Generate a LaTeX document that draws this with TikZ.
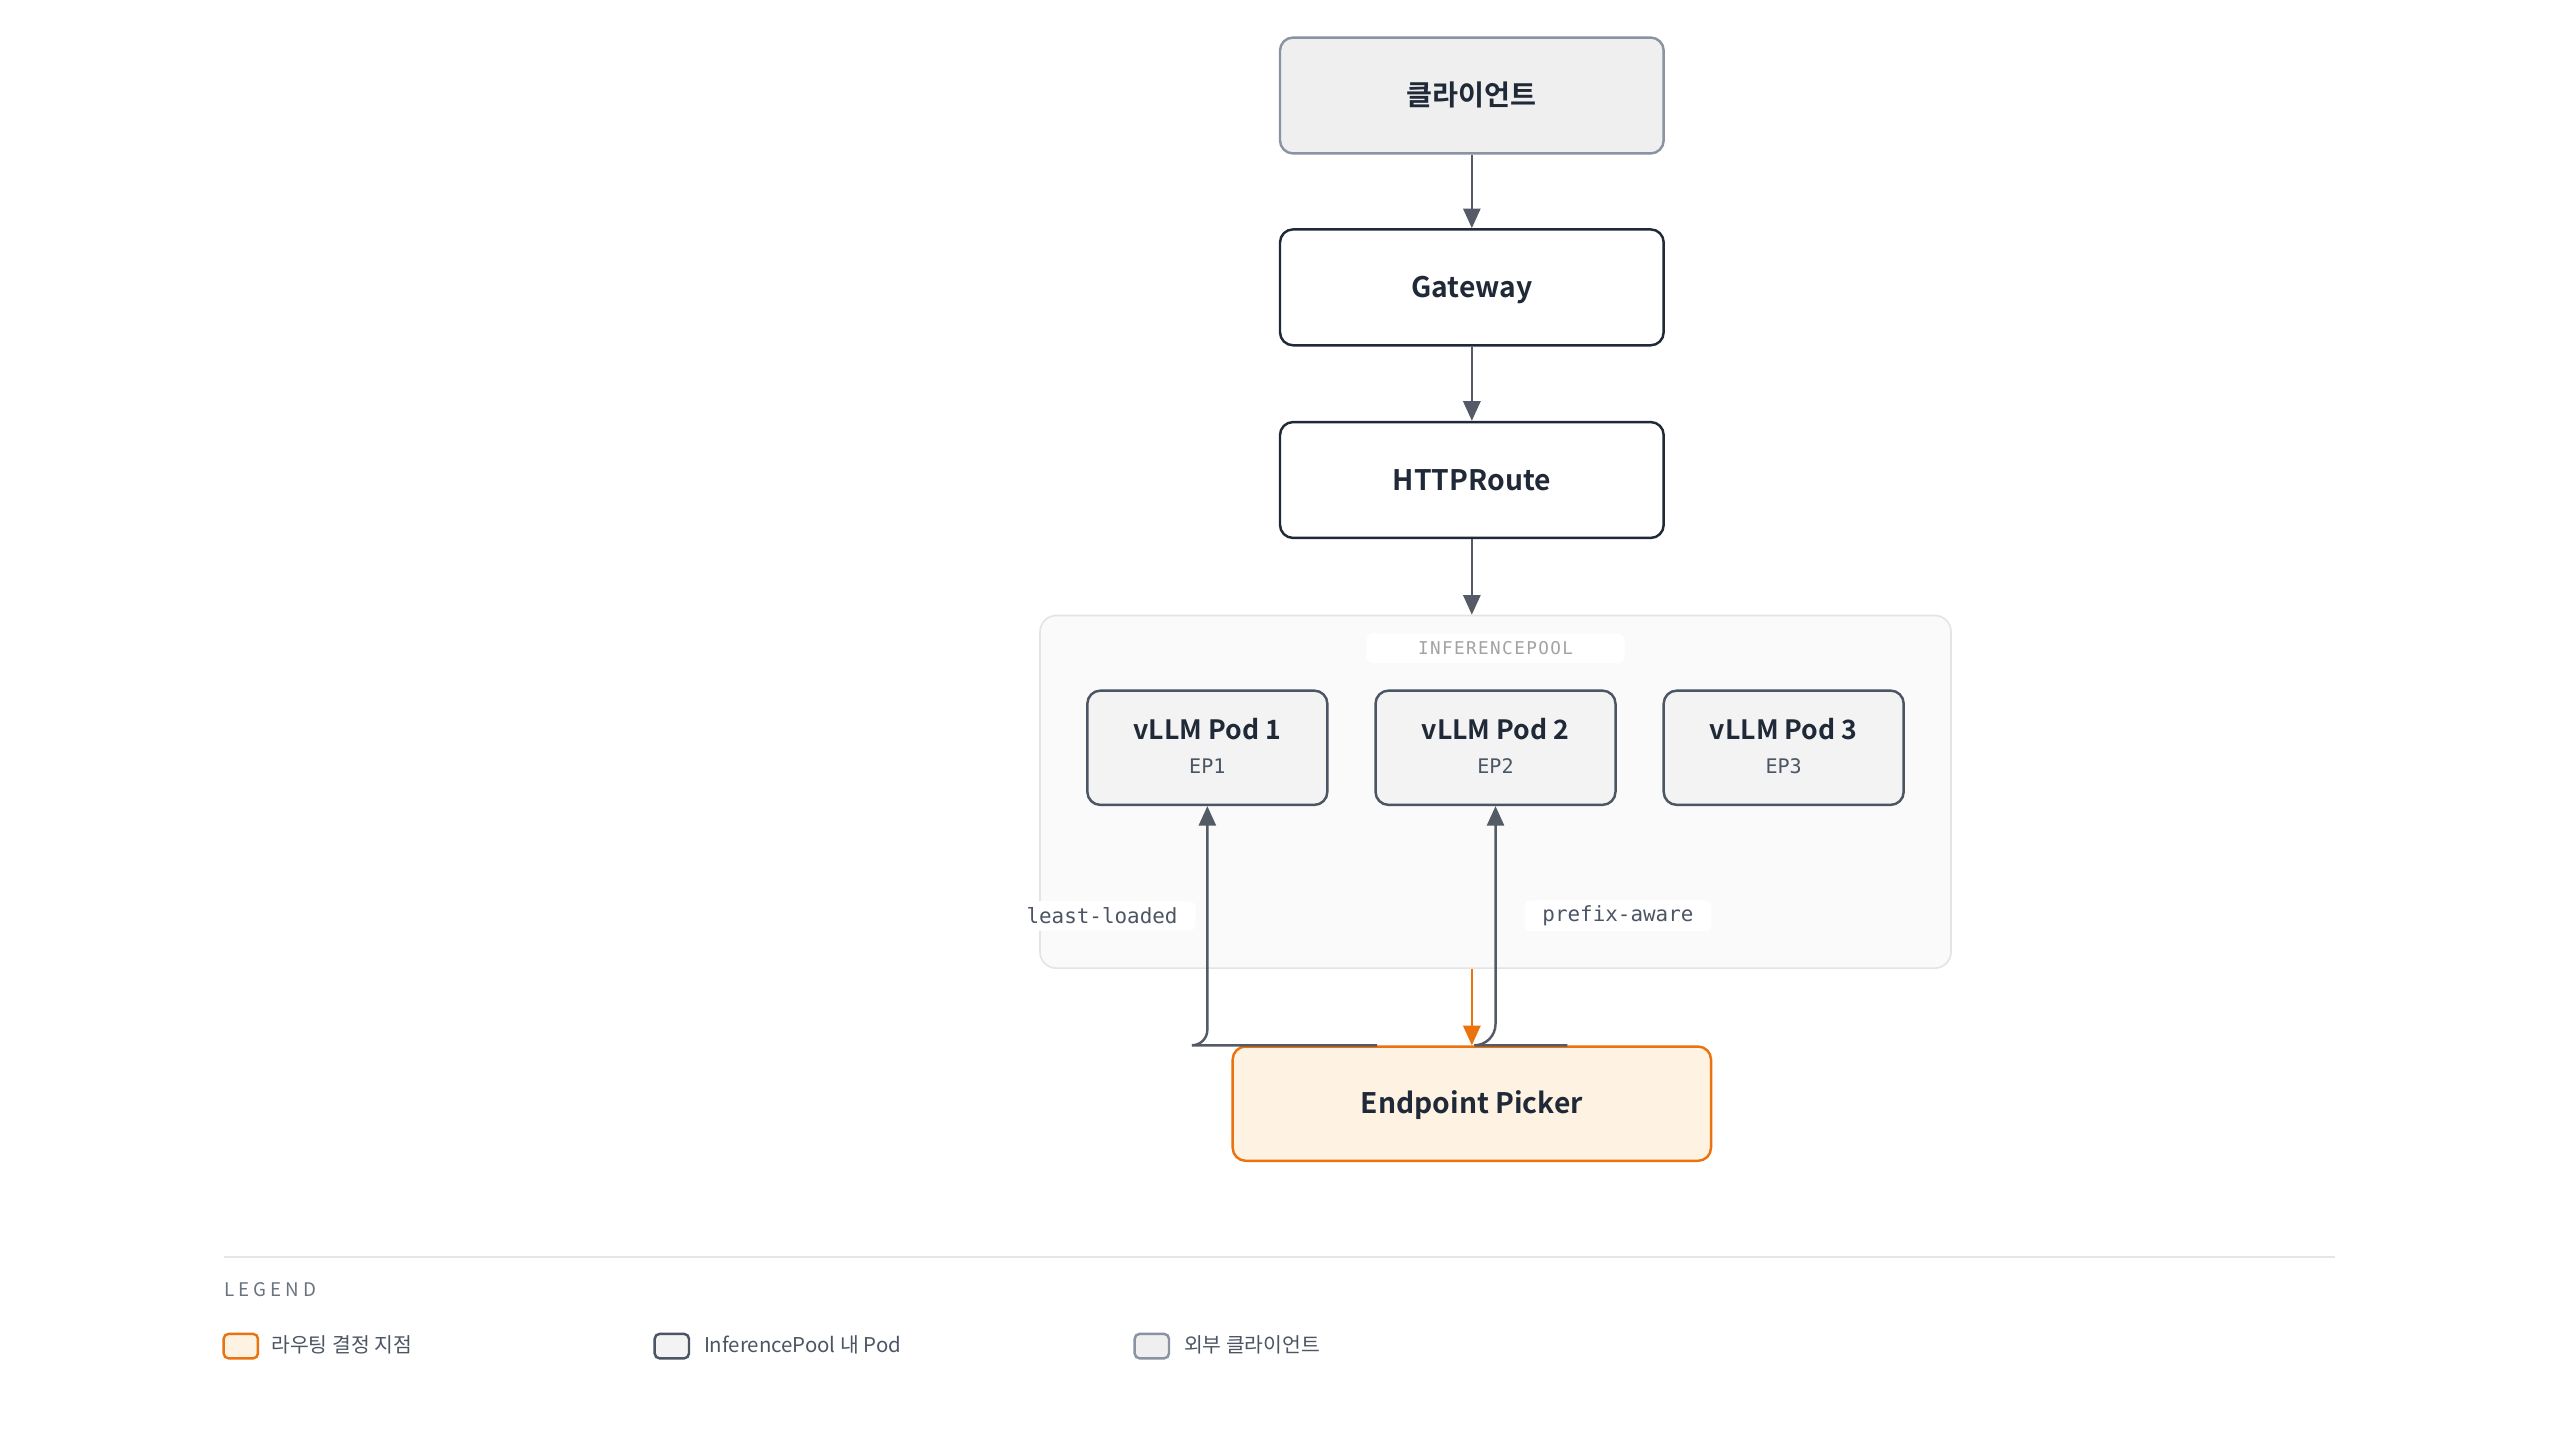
\documentclass[tikz,border=0pt]{standalone}
\usepackage{fontspec}
\setmainfont{Noto Sans CJK KR}[BoldFont={Noto Sans CJK KR Bold}]
\newfontfamily\monofont{DejaVu Sans Mono}
\newfontfamily\spacedmono[LetterSpace=8]{DejaVu Sans Mono}
\newfontfamily\legendfont[LetterSpace=22]{Noto Sans CJK KR}
\usetikzlibrary{arrows.meta,calc}
\definecolor{ink}{HTML}{1F2937}
\definecolor{edgegray}{HTML}{545B66}
\definecolor{podborder}{HTML}{4B5563}
\definecolor{podfill}{HTML}{F3F3F4}
\definecolor{clientfill}{HTML}{EFEFEF}
\definecolor{clientborder}{HTML}{8A93A3}
\definecolor{poolfill}{HTML}{FAFAFA}
\definecolor{poolborder}{HTML}{E4E4E4}
\definecolor{orangeb}{HTML}{EA730F}
\definecolor{orangef}{HTML}{FEF3E2}
\definecolor{labelgray}{HTML}{4B5563}
\definecolor{faint}{HTML}{A3A3A3}
\definecolor{legendline}{HTML}{E5E5E5}
\definecolor{legendtitle}{HTML}{6B7280}
\begin{document}
\begin{tikzpicture}[x=1pt,y=1pt,
  box/.style={rectangle, rounded corners=8pt, line width=1.5pt, minimum width=235pt, minimum height=71pt, text=ink, text height=12.6pt, text depth=0pt, font=\bfseries\fontsize{17.3}{21}\selectfont},
  podbox/.style={rectangle, rounded corners=8pt, line width=1.5pt, draw=podborder, fill=podfill, minimum width=147pt, minimum height=70pt},
  podtitle/.style={text=ink, inner sep=0pt, font=\bfseries\fontsize{16.3}{19}\selectfont},
  eptext/.style={text=labelgray, inner sep=0pt, font=\monofont\fontsize{12.3}{14}\selectfont},
  edge/.style={draw=edgegray, line width=1.5pt, -{Triangle[width=10.5pt,length=12pt]}},
  oedge/.style={draw=orangeb, line width=1.5pt, -{Triangle[width=10.5pt,length=12pt]}},
  elabel/.style={fill=white, rounded corners=4pt, text=labelgray, inner xsep=11pt, minimum height=18pt, font=\monofont\fontsize{12.8}{14}\selectfont},
  swatch/.style={rectangle, rounded corners=3pt, line width=1.5pt, minimum width=21pt, minimum height=15pt, inner sep=0pt},
  legtext/.style={anchor=west, inner sep=0pt, text=labelgray, font=\fontsize{12.5}{15}\selectfont}
]
\useasboundingbox (0,0) rectangle (1568,-882);
\fill[white] (0,0) rectangle (1568,-882);

% container
\node (pool) [rectangle, rounded corners=10pt, draw=poolborder, fill=poolfill, line width=1pt, minimum width=558pt, minimum height=216pt] at (916,-485) {};
\node (poollabel) [fill=white, rounded corners=4pt, minimum width=158pt, minimum height=18pt, inner sep=0pt, text=faint, font=\spacedmono\fontsize{10.8}{12}\selectfont] at (916,-397) {INFERENCEPOOL};

% main nodes
\node (client) [box, draw=clientborder, fill=clientfill] at (901.5,-58.5) {클라이언트};
\node (gateway) [box, draw=ink, fill=white] at (901.5,-176) {Gateway};
\node (httproute) [box, draw=ink, fill=white] at (901.5,-294) {HTTPRoute};

\node (pod1) [podbox] at (739.5,-458) {};
\node (pod2) [podbox] at (916,-458) {};
\node (pod3) [podbox] at (1092.5,-458) {};
\node (pod1t) [podtitle] at ($(pod1.center)+(0,11.5)$) {vLLM Pod 1};
\node (pod2t) [podtitle] at ($(pod2.center)+(0,11.5)$) {vLLM Pod 2};
\node (pod3t) [podtitle] at ($(pod3.center)+(0,11.5)$) {vLLM Pod 3};
\node (pod1e) [eptext] at ($(pod1.center)+(0,-11)$) {EP1};
\node (pod2e) [eptext] at ($(pod2.center)+(0,-11)$) {EP2};
\node (pod3e) [eptext] at ($(pod3.center)+(0,-11)$) {EP3};

\node (ep) [box, draw=orangeb, fill=orangef, minimum width=293pt, minimum height=70pt] at (901.5,-676) {Endpoint Picker};

% edges
\draw[edge] (client.south) -- (gateway.north);
\draw[edge] (gateway.south) -- (httproute.north);
\draw[edge] (httproute.south) -- (httproute.south |- pool.north);

\coordinate (s1) at ($(ep.north)+(-58,0)$);
\coordinate (s2) at ($(ep.north)+(58.5,0)$);
\draw[edge] (s1) -- ++(-113.5,0) arc[start angle=-90, end angle=0, radius=9.5] -- (pod1.south);
\draw[edge] (s2) -- ++(-57,0) arc[start angle=-90, end angle=0, radius=13] -- (pod2.south);
\draw[oedge] (ep.north |- pool.south) -- (ep.north);

\node (ll) [elabel] at (675,-561) {least-loaded};
\node (pa) [elabel] at (991,-561) {prefix-aware};

% legend
\coordinate (lg1) at (137,-770);
\coordinate (lg2) at (1430,-770);
\draw[legendline, line width=1pt] (lg1) -- (lg2);
\node (legtitle) [anchor=west, inner sep=0pt, text=legendtitle, font=\legendfont\fontsize{11.5}{13}\selectfont] at (137,-790) {LEGEND};
\node (sw1) [swatch, draw=orangeb, fill=orangef] at (147.5,-824.5) {};
\node (sw2) [swatch, draw=podborder, fill=podfill] at (411.5,-824.5) {};
\node (sw3) [swatch, draw=clientborder, fill=clientfill] at (705.5,-824.5) {};
\node (lt1) [legtext] at (166,-824) {라우팅 결정 지점};
\node (lt2) [legtext] at (431,-824) {InferencePool 내 Pod};
\node (lt3) [legtext] at (725,-824) {외부 클라이언트};
\end{tikzpicture}
\end{document}
